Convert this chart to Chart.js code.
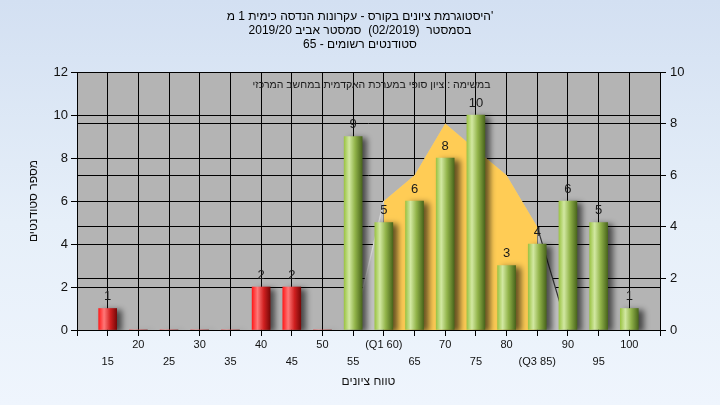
<!DOCTYPE html>
<html><head><meta charset="utf-8">
<script src="https://cdn.jsdelivr.net/npm/chart.js@4"></script>
<style>
html,body{margin:0;padding:0;width:720px;height:405px;overflow:hidden;}
body{background:linear-gradient(to bottom,#d3e0f2 0%,#e6eff9 55%,#eff5fd 100%);}
#wrap{position:relative;width:720px;height:405px;}
</style></head><body>
<div id="wrap"><canvas id="c" dir="rtl" width="720" height="405"></canvas></div>
<script>
// ---- data ----
const titleLines = [
  "'היסטוגרמת ציונים בקורס - עקרונות הנדסה כימית 1 מ",
  "בסמסטר  (02/2019)  סמסטר אביב 2019/20",
  "סטודנטים רשומים - 65"
];
const noteText = "במשימה : ציון סופי במערכת האקדמית במחשב המרכזי";
const xTitle = "טווח ציונים";
const yTitle = "מספר סטודנטים";
const scores  = [15,20,25,30,35,40,45,50,55,60,65,70,75,80,85,90,95,100];
const xLabels = ['15','20','25','30','35','40','45','50','55','(Q1 60)','65','70','75','80','(Q3 85)','90','95','100'];
const counts  = [1,0,0,0,0,2,2,0,9,5,6,8,10,3,4,6,5,1];
const curveScores = [55,60,65,70,75,80,85,90];
const curveValues = [0,5,6,8,7,6,4,0];
const q1 = 60, q3 = 85;
const passScore = 55;

// ---- styles ----
const FONT = "'Liberation Sans', Arial, 'DejaVu Sans', sans-serif";
const greenStops = [[0,'#9cc446'],[0.28,'#d2e8a2'],[0.6,'#92b44a'],[1,'#4a661c']];
const redStops   = [[0,'#ff1c1c'],[0.3,'#ff7878'],[0.65,'#d02020'],[1,'#7a0808']];
const BAR_W = 18;

function barFill(c){
  if (c.type !== 'data' || !c.chart.scales || !c.chart.scales.x) return '#9c4';
  const score = scores[c.dataIndex];
  const cx = c.chart.scales.x.getPixelForValue(score);
  if (!isFinite(cx)) return score < passScore ? '#e02020' : '#9c4';
  const g = c.chart.ctx.createLinearGradient(cx - BAR_W/2, 0, cx + BAR_W/2, 0);
  (score < passScore ? redStops : greenStops).forEach(s => g.addColorStop(s[0], s[1]));
  return g;
}

const barPts = counts.map((v,i) => ({x: scores[i], y: v}));
const curvePts = curveValues.map((v,i) => ({x: curveScores[i], y: v}));
const iqrPts = curvePts.filter(p => p.x >= q1 && p.x <= q3);

const plotBg = {
  id: 'plotBg',
  beforeDraw(chart){
    const {ctx, chartArea:a} = chart;
    ctx.save(); ctx.fillStyle = '#b4b4b4';
    ctx.fillRect(a.left, a.top, a.right - a.left, a.bottom - a.top);
    ctx.restore();
  }
};
const barShadow = {
  id: 'barShadow',
  beforeDatasetDraw(chart, args){
    if (args.meta.type !== 'bar') return;
    const ctx = chart.ctx;
    ctx.shadowColor = 'rgba(0,0,0,0.6)';
    ctx.shadowBlur = 6; ctx.shadowOffsetX = 5; ctx.shadowOffsetY = 2;
  },
  afterDatasetDraw(chart, args){
    const ctx = chart.ctx;
    ctx.shadowColor = 'rgba(0,0,0,0)'; ctx.shadowBlur = 0; ctx.shadowOffsetX = 0; ctx.shadowOffsetY = 0;
  }
};
const valueLabels = {
  id: 'valueLabels',
  afterDatasetsDraw(chart){
    const ctx = chart.ctx;
    const meta = chart.getDatasetMeta(0);
    ctx.save();
    ctx.font = '13px ' + FONT; ctx.fillStyle = '#1a1a1a';
    ctx.textAlign = 'center'; ctx.textBaseline = 'middle';
    meta.data.forEach((el,i) => {
      const v = counts[i];
      if (!v) return;
      ctx.fillText(String(v), el.x, el.y - 12);
    });
    ctx.restore();
  }
};
const note = {
  id: 'note',
  afterDraw(chart){
    const {ctx, chartArea:a} = chart;
    ctx.save();
    ctx.font = '10.5px ' + FONT; ctx.fillStyle = '#1a1a1a';
    ctx.textAlign = 'center'; ctx.textBaseline = 'middle';
    ctx.fillText(noteText, (a.left + a.right)/2 + 3, a.top + 13);
    ctx.restore();
  }
};

new Chart(document.getElementById('c'), {
  type: 'bar',
  data: {
    datasets: [
      { type:'bar', data: barPts, xAxisID:'x', yAxisID:'y', barThickness: BAR_W,
        backgroundColor: barFill, borderWidth: 0, order: 0 },
      { type:'line', data: iqrPts, xAxisID:'x', yAxisID:'y2', fill:'origin',
        backgroundColor:'#ffcc55', borderWidth:0, borderColor:'rgba(0,0,0,0)', pointRadius:0, tension:0, order:1 },
      { type:'line', data: curvePts, xAxisID:'x', yAxisID:'y2', fill:'origin',
        backgroundColor:'#c2c2c2', borderWidth:1.2, pointRadius:0, tension:0, order:2,
        segment: { borderColor: s => s.p1.parsed.x <= q1 ? '#d8d8d8' : (s.p0.parsed.x >= q3 ? '#333333' : 'rgba(0,0,0,0)') } }
    ]
  },
  options: {
    responsive: false, animation: false, devicePixelRatio: 1,
    layout: { padding: 0 },
    plugins: {
      legend: { display:false }, tooltip: { enabled:false },
      title: { display:true, text: titleLines, color:'#000',
        font: { size:12, family: FONT, weight:'normal', lineHeight: 14/12 },
        padding: { top:10, bottom:20 } }
    },
    scales: {
      x: {
        type:'linear', min:10, max:105, offset:false,
        afterBuildTicks: s => { s.ticks = [10, ...scores, 105].map(v => ({value:v})); },
        afterFit: s => { s.height = 75; },
        ticks: { autoSkip:false, maxRotation:0, minRotation:0, padding:0, color:'#111',
          font:{ size:11, family:FONT, lineHeight:17.5/11 },
          callback: v => { const i = scores.indexOf(v); if (i < 0) return ''; return i % 2 === 0 ? ['', xLabels[i]] : xLabels[i]; } },
        grid: { color:'#000', tickColor:'#000', tickLength:6, lineWidth:1, offset:false },
        border: { color:'#000', width:1 },
        title: { display:true, text:xTitle, color:'#111', font:{ size:12, family:FONT }, padding:{ top:0, bottom:16 } }
      },
      y: {
        type:'linear', position:'left', min:0, max:12,
        afterFit: s => { s.width = 77; },
        ticks: { stepSize:2, padding:3, color:'#111', font:{ size:13, family:FONT } },
        grid: { color:'#000', tickColor:'#000', tickLength:6, lineWidth:1 },
        border: { color:'#000', width:1 },
        title: { display:true, text:yTitle, color:'#111', font:{ size:12, family:FONT }, padding:{ top:26, bottom:0 } }
      },
      y2: {
        type:'linear', position:'right', min:0, max:10,
        afterFit: s => { s.width = 60; },
        ticks: { stepSize:2, padding:4, color:'#111', font:{ size:13, family:FONT } },
        grid: { color:'#000', tickColor:'#000', tickLength:6, lineWidth:1, drawOnChartArea:true },
        border: { color:'#000', width:1 }
      }
    }
  },
  plugins: [plotBg, barShadow, valueLabels, note]
});
</script>
</body></html>
